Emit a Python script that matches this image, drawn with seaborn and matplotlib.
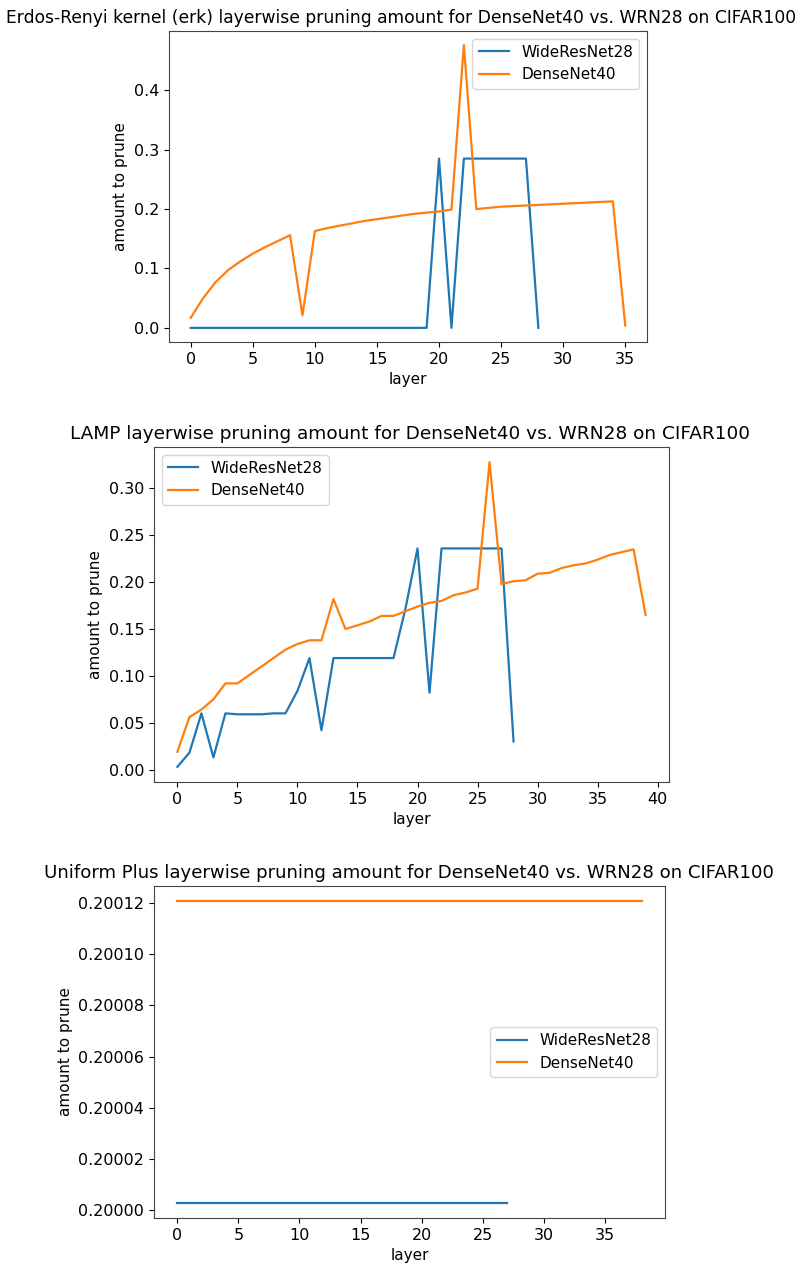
import matplotlib
matplotlib.use("Agg")
import matplotlib.pyplot as plt
import seaborn as sns
import pandas as pd
import numpy as np
from matplotlib.ticker import ScalarFormatter

# ---------------- data ----------------
series_names = ["WideResNet28", "DenseNet40"]

erk_wrn = [0.0] * 20 + [0.285, 0.0, 0.285, 0.285, 0.285, 0.285, 0.285, 0.285, 0.0]
erk_dense = [0.017, 0.050, 0.077, 0.097, 0.112, 0.125, 0.136, 0.146, 0.156, 0.021,
             0.163, 0.168, 0.172, 0.176, 0.180, 0.183, 0.186, 0.189, 0.192, 0.194,
             0.196, 0.199, 0.476, 0.200, 0.202, 0.204, 0.205, 0.206, 0.207, 0.208,
             0.209, 0.210, 0.211, 0.212, 0.213, 0.004]

lamp_wrn = [0.003, 0.018, 0.060, 0.013, 0.060, 0.059, 0.059, 0.059, 0.060, 0.060,
            0.084, 0.119, 0.042, 0.119, 0.119, 0.119, 0.119, 0.119, 0.119, 0.172,
            0.236, 0.082, 0.236, 0.236, 0.236, 0.236, 0.236, 0.236, 0.030]
lamp_dense = [0.019, 0.056, 0.064, 0.075, 0.092, 0.092, 0.101, 0.110, 0.119, 0.128,
              0.134, 0.138, 0.138, 0.182, 0.150, 0.154, 0.158, 0.164, 0.164, 0.169,
              0.174, 0.178, 0.180, 0.186, 0.189, 0.193, 0.328, 0.198, 0.201, 0.202,
              0.209, 0.210, 0.215, 0.218, 0.220, 0.224, 0.229, 0.232, 0.235, 0.165]

unif_wrn = [0.2000028] * 28
unif_dense = [0.2001208] * 39

titles = [
    "Erdos-Renyi kernel (erk) layerwise pruning amount for DenseNet40 vs. WRN28 on CIFAR100",
    "LAMP layerwise pruning amount for DenseNet40 vs. WRN28 on CIFAR100",
    "Uniform Plus layerwise pruning amount for DenseNet40 vs. WRN28 on CIFAR100",
]
xlabel = "layer"
ylabel = "amount to prune"

# ---------------- figure ----------------
W, H = 803, 1268
fig = plt.figure(figsize=(W / 100, H / 100), dpi=100)

def box(l, r, t, b):
    return [l / W, (H - b) / H, (r - l) / W, (b - t) / H]

ax_boxes = [box(169, 647, 31, 342), box(154, 669, 447, 782), box(154, 665, 886, 1218)]
legend_locs = ["upper right", "upper left", "center right"]
title_sizes = [12.35, 13.3, 13.1]
title_x = [(401 - 169) / 478, (410 - 154) / 515, (409 - 154) / 511]
data_sets = [(erk_wrn, erk_dense), (lamp_wrn, lamp_dense), (unif_wrn, unif_dense)]
colors = ["#1f77b4", "#ff7f0e"]

for i, (rect, (wrn, dense)) in enumerate(zip(ax_boxes, data_sets)):
    ax = fig.add_axes(rect)
    frames = []
    for name, vals in zip(series_names, [wrn, dense]):
        frames.append(pd.DataFrame({"layer": np.arange(len(vals)), "amount": vals, "model": name}))
    df = pd.concat(frames, ignore_index=True)
    sns.lineplot(data=df, x="layer", y="amount", hue="model", palette=colors,
                 ax=ax, linewidth=1.6)
    ax.set_title(titles[i], fontsize=title_sizes[i], pad=6, x=title_x[i])
    ax.set_xlabel(xlabel, fontsize=11)
    ax.set_ylabel(ylabel, fontsize=11)
    ax.tick_params(labelsize=11.5)
    ax.legend(loc=legend_locs[i], fontsize=11, title=None)
    for s in ax.spines.values():
        s.set_color("#444444")
    if i == 2:
        fmt = ScalarFormatter(useOffset=False)
        ax.yaxis.set_major_formatter(fmt)
        ax.set_yticks([0.20000, 0.20002, 0.20004, 0.20006, 0.20008, 0.20010, 0.20012])
        ax.set_yticklabels(["0.20000", "0.20002", "0.20004", "0.20006", "0.20008", "0.20010", "0.20012"])

fig.savefig("out.png", dpi=100)
